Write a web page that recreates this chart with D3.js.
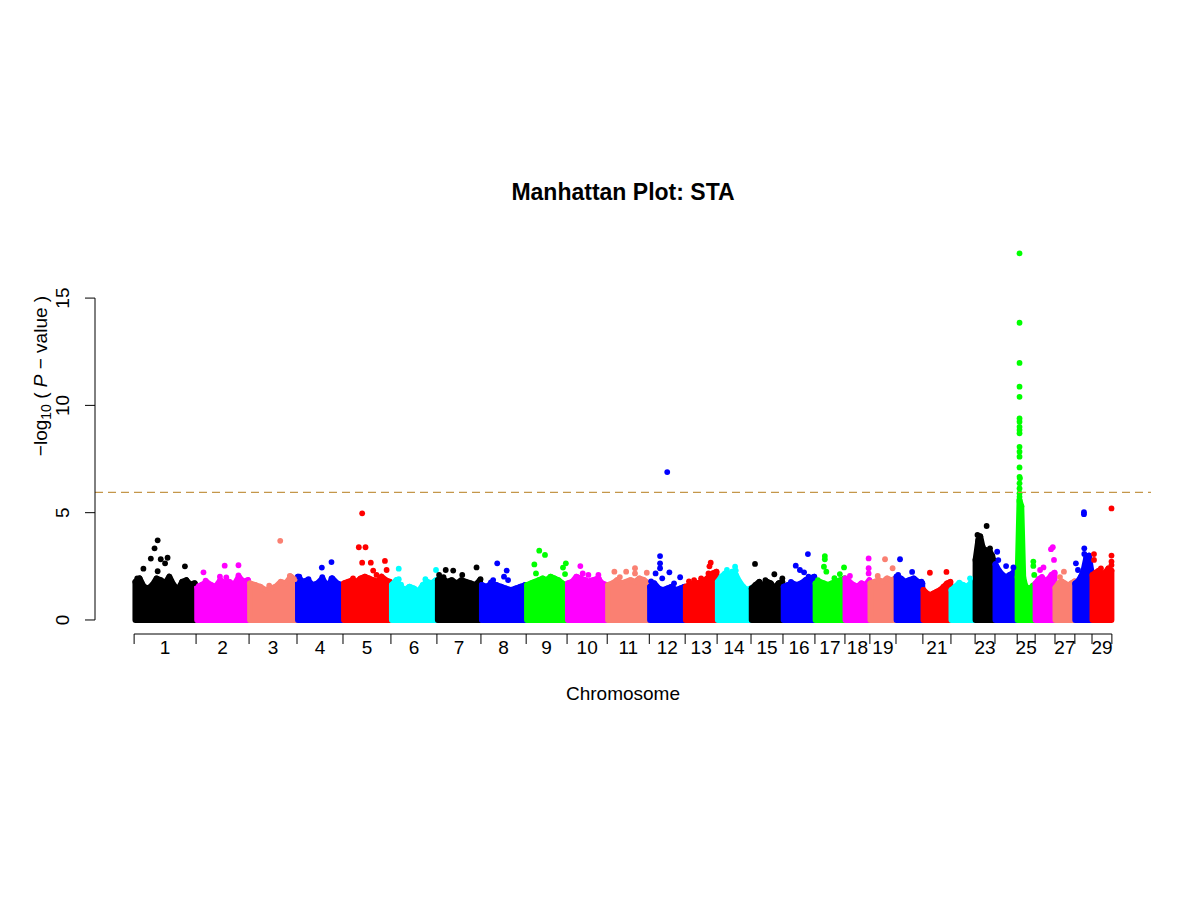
<!DOCTYPE html>
<html>
<head>
<meta charset="utf-8">
<script src="https://cdn.jsdelivr.net/npm/d3@7"></script>
<style>
  body { margin: 0; background: #fff; }
  text { font-family: "Liberation Sans", Arial, Helvetica, sans-serif; fill: #000; }
</style>
</head>
<body>
<div id="chart"></div>
<script>
// chromosome lengths (Mb)
const chromLen = [159, 136, 123, 118, 123, 118, 113, 116, 105, 103, 108, 92, 82, 87, 82,
                  82, 77, 64, 67, 69, 72, 62, 51, 57, 46, 51, 51, 44, 51];
const chromLabel = ["1","2","3","4","5","6","7","8","9","10","11","12","13","14","15",
                    "16","17","18","19","","21","","23","","25","","27","","29"];
const chromColor = ["black","magenta","salmon","blue","red","cyan",
                    "black","blue","lime","magenta","salmon","blue","red","cyan",
                    "black","blue","lime","magenta","salmon","blue","red","cyan",
                    "black","blue","lime","magenta","salmon","blue","red"];
const yTicks = [0, 5, 10, 15];
const threshold = 5.95;

// upper edge of the dense cloud of each chromosome, evenly spaced along it
const envelope = [
  [1.78, 1.94, 1.55, 1.47, 1.63, 1.94, 1.86, 1.71, 2.02, 1.63, 1.40, 1.78, 1.86, 1.63, 1.71],
  [1.55, 1.63, 1.78, 1.63, 1.55, 1.86, 1.71, 1.78, 1.63, 2.02, 1.78, 1.86],
  [1.71, 1.63, 1.55, 1.40, 1.47, 1.55, 1.78, 1.71, 2.02, 1.86],
  [2.02, 1.78, 1.86, 1.63, 1.71, 1.94, 1.55, 1.94, 1.71, 1.63],
  [1.71, 1.78, 1.86, 1.78, 1.94, 2.02, 1.94, 1.86, 1.78, 2.02, 1.86, 1.78],
  [1.63, 1.86, 1.55, 1.40, 1.55, 1.47, 1.32, 1.63, 1.78, 1.71, 1.86],
  [1.86, 1.94, 1.78, 1.86, 1.71, 1.86, 1.78, 1.71, 1.63, 1.86],
  [1.63, 1.55, 1.71, 1.63, 1.55, 1.47, 1.40, 1.47, 1.55, 1.63],
  [1.63, 1.71, 1.78, 1.86, 1.94, 1.86, 2.02, 1.94, 1.86, 1.71, 1.63],
  [1.71, 1.78, 2.02, 1.94, 1.86, 1.78, 1.86, 1.94, 1.71, 1.63],
  [1.63, 1.71, 1.86, 1.71, 1.78, 1.86, 1.78, 1.94, 1.86, 1.71],
  [1.55, 1.71, 1.47, 1.40, 1.47, 1.55, 1.40, 1.47, 1.55],
  [1.55, 1.63, 1.71, 1.71, 1.78, 1.86, 2.02, 2.17, 2.25],
  [1.78, 2.02, 2.17, 2.02, 2.25, 2.10, 1.78, 1.55, 1.40, 1.47],
  [1.47, 1.63, 1.78, 1.55, 1.78, 1.71, 1.47, 1.71, 1.78],
  [1.55, 1.63, 1.71, 1.63, 1.71, 1.86, 1.94, 2.02],
  [1.71, 1.78, 1.71, 1.63, 1.71, 1.78, 1.86, 1.94],
  [1.94, 1.78, 1.63, 1.55, 1.71, 1.63, 1.86],
  [1.71, 1.78, 1.86, 1.78, 1.94, 1.86, 1.94],
  [2.02, 1.94, 1.78, 1.86, 1.94, 1.78, 1.71],
  [1.40, 1.24, 1.17, 1.24, 1.32, 1.40, 1.55, 1.71, 1.78],
  [1.40, 1.55, 1.71, 1.63, 1.55, 1.71, 1.86],
  [2.8, 3.6, 3.9, 3.4, 3.1, 2.9, 3.2, 3.0, 2.6],
  [2.6, 2.3, 2.1, 2.0, 2.1, 2.2, 2.1],
  [2.0, 5.6, 5.3, 2.0, 1.6, 1.5, 1.4, 1.5, 1.6, 1.5],
  [1.7, 1.9, 2.0, 1.8, 1.9, 2.1, 2.2],
  [1.5, 1.7, 1.8, 1.7, 1.6, 1.7, 1.8],
  [1.7, 1.8, 2.0, 2.3, 2.9, 3.0, 2.2],
  [2.1, 2.2, 2.3, 2.1, 2.2, 2.4, 2.3]
];

// loose points above the cloud: [chromosome, position along it (0-1), -log10 p]
const peaks = [
  [1,0.38,3.71],[1,0.33,3.34],[1,0.27,2.86],[1,0.15,2.39],[1,0.43,2.83],[1,0.54,2.9],
  [1,0.50,2.64],[1,0.38,2.27],[1,0.82,2.5],[1,0.05,1.94],[1,0.96,1.71],
  [2,0.14,2.22],[2,0.18,1.83],[2,0.54,2.53],[2,0.80,2.55],[2,0.45,2.02],[2,0.80,2.08],[2,0.57,1.98],
  [3,0.65,3.69],[3,0.42,1.6],[3,0.85,2.05],[3,0.95,1.9],
  [4,0.54,2.44],[4,0.75,2.70],[4,0.05,2.02],[4,0.75,1.94],[4,0.55,2.0],[4,0.25,1.9],
  [5,0.40,4.97],[5,0.33,3.39],[5,0.47,3.39],[5,0.40,2.67],[5,0.58,2.67],[5,0.875,2.75],
  [5,0.91,2.33],[5,0.63,2.3],[5,0.21,1.94],[5,0.70,2.1],
  [6,0.17,2.39],[6,0.17,1.9],[6,0.98,2.33],[6,0.22,1.65],[6,0.75,1.9],
  [7,0.05,2.1],[7,0.20,2.33],[7,0.37,2.3],[7,0.575,2.1],[7,0.90,2.45],[7,0.99,1.9],[7,0.15,2.0],
  [8,0.36,2.64],[8,0.57,2.3],[8,0.51,2.02],[8,0.60,1.86],[8,0.27,1.86],[8,0.22,1.75],
  [9,0.32,3.23],[9,0.46,3.03],[9,0.20,2.59],[9,0.24,2.17],[9,0.97,2.64],[9,0.90,2.44],[9,0.95,2.14],
  [10,0.33,2.51],[10,0.39,2.17],[10,0.53,2.1],[10,0.78,2.1],[10,0.80,1.9],[10,0.60,1.85],
  [11,0.17,2.25],[11,0.45,2.25],[11,0.66,2.41],[11,0.66,2.17],[11,0.94,2.2],[11,0.30,2.0],
  [12,0.50,6.89],[12,0.30,2.98],[12,0.30,2.64],[12,0.30,2.41],[12,0.175,2.17],[12,0.56,2.22],
  [12,0.36,1.94],[12,0.86,1.99],[12,0.69,1.71],[12,0.05,1.8],
  [13,0.80,2.67],[13,0.76,2.5],[13,0.73,2.17],[13,0.50,1.94],[13,0.28,1.86],[13,0.12,1.8],
  [14,0.29,2.33],[14,0.53,2.48],[14,0.27,2.17],[14,0.55,2.3],
  [15,0.125,2.61],[15,0.73,2.13],[15,0.98,1.94],[15,0.45,1.86],
  [16,0.78,3.07],[16,0.40,2.53],[16,0.53,2.33],[16,0.66,2.22],[16,0.80,2.02],[16,0.25,1.78],
  [17,0.33,2.98],[17,0.33,2.83],[17,0.30,2.48],[17,0.38,2.25],[17,0.97,2.45],[17,0.83,2.14],
  [17,0.65,1.95],[17,0.10,1.86],
  [18,0.95,2.87],[18,0.95,2.41],[18,0.95,2.17],[18,0.20,2.05],
  [19,0.58,2.83],[19,0.87,2.41],[19,0.30,2.05],
  [20,0.15,2.83],[20,0.08,2.1],[20,0.60,2.24],[20,0.95,1.79],
  [21,0.25,2.2],[21,0.84,2.24],
  [22,0.35,1.74],[22,0.79,1.94],
  [23,0.58,4.38],[23,0.12,3.96],[23,0.15,3.73],[23,0.25,3.57],[23,0.55,3.26],[23,0.75,3.34],
  [23,0.80,3.0],[23,0.10,2.79],
  [24,0.10,3.18],[24,0.15,2.79],[24,0.50,2.51],[24,0.83,2.45],
  [25,0.13,17.08],[25,0.13,13.85],[25,0.13,11.98],[25,0.13,10.87],[25,0.13,10.40],[25,0.13,9.39],
  [25,0.13,9.24],[25,0.13,9.0],[25,0.13,8.85],[25,0.13,8.70],[25,0.13,8.07],[25,0.13,7.84],
  [25,0.13,7.61],[25,0.13,7.11],[25,0.13,6.67],[25,0.15,6.6],[25,0.13,6.37],[25,0.13,6.13],
  [25,0.13,5.90],[25,0.13,5.74],[25,0.13,5.51],
  [25,0.90,2.72],[25,0.90,2.52],[25,0.95,2.1],
  [26,0.89,3.39],[26,0.80,3.3],[26,0.95,2.8],[26,0.42,2.45],[26,0.25,2.33],
  [27,0.45,2.25],[27,0.25,2.0],
  [28,0.53,5.02],[28,0.53,4.93],[28,0.55,3.34],[28,0.55,3.08],[28,0.06,2.64],[28,0.18,2.33],
  [29,0.98,5.2],[29,0.98,3.0],[29,0.98,2.72],[29,0.98,2.56],[29,0.10,3.07],[29,0.10,2.8],[29,0.45,2.4]
];

const W = 1200, H = 900;
const plot = {left: 95, right: 1151, top: 238, bottom: 635};
const dotR = 2.9;

const starts = [0, ...d3.cumsum(chromLen)];
const total = starts[starts.length - 1];

let svg = d3.select("#chart").append("svg")
    .attr("width", W)
    .attr("height", H);
svg.append("rect").attr("width", W).attr("height", H).attr("fill", "#fff");

// R style: 4% padding on both ends
let x = d3.scaleLinear()
    .domain([-0.04 * total, 1.04 * total])
    .range([plot.left, plot.right]);
let y = d3.scaleLinear()
    .domain([-0.7, 17.8])
    .range([plot.bottom, plot.top]);

const pos = (c, f) => x(starts[c] + f * chromLen[c]);

// dense clouds
const cloud = svg.append("g");
envelope.forEach((env, c) => {
    const pts = env.map((v, i) => [0.02 + i * 0.96 / (env.length - 1), v]);
    const area = d3.area()
        .x(d => pos(c, d[0]))
        .y0(y(0))
        .y1(d => y(d[1]));
    cloud.append("path")
        .attr("d", area(pts))
        .attr("fill", chromColor[c])
        .attr("stroke", chromColor[c])
        .attr("stroke-width", dotR * 2)
        .attr("stroke-linejoin", "round");
    cloud.selectAll(null)
        .data(pts)
        .enter()
        .append("circle")
            .attr("cx", d => pos(c, d[0]))
            .attr("cy", d => y(d[1]))
            .attr("r", dotR)
            .attr("fill", chromColor[c]);
});

// single points
svg.append("g")
    .selectAll("circle")
    .data(peaks)
    .enter()
    .append("circle")
        .attr("cx", d => pos(d[0] - 1, d[1]))
        .attr("cy", d => y(d[2]))
        .attr("r", dotR)
        .attr("fill", d => chromColor[d[0] - 1]);

// significance line
svg.append("line")
    .attr("x1", plot.left).attr("x2", plot.right)
    .attr("y1", y(threshold)).attr("y2", y(threshold))
    .attr("stroke", "#c4964a")
    .attr("stroke-width", 1.2)
    .attr("stroke-dasharray", "8,5");

// y axis
const ya = svg.append("g");
ya.append("line")
    .attr("x1", plot.left).attr("x2", plot.left)
    .attr("y1", y(0)).attr("y2", y(15))
    .attr("stroke", "#000");
yTicks.forEach(t => {
    ya.append("line")
        .attr("x1", plot.left - 10).attr("x2", plot.left)
        .attr("y1", y(t)).attr("y2", y(t))
        .attr("stroke", "#000");
    ya.append("text")
        .attr("transform", `translate(68.5,${y(t)}) rotate(-90)`)
        .attr("text-anchor", "middle")
        .style("font-size", "19px")
        .text(t);
});

// x axis: ticks at chromosome borders, names in the middle
const xa = svg.append("g");
const axisY = 634;
xa.append("line")
    .attr("x1", x(0)).attr("x2", x(total))
    .attr("y1", axisY).attr("y2", axisY)
    .attr("stroke", "#000");
starts.forEach(s => {
    xa.append("line")
        .attr("x1", x(s)).attr("x2", x(s))
        .attr("y1", axisY).attr("y2", axisY + 10)
        .attr("stroke", "#000");
});
chromLabel.forEach((lab, c) => {
    if (!lab) return;
    xa.append("text")
        .attr("x", pos(c, 0.5))
        .attr("y", 653.5)
        .attr("text-anchor", "middle")
        .style("font-size", "19px")
        .text(lab);
});

// titles
svg.append("text")
    .attr("x", (plot.left + plot.right) / 2)
    .attr("y", 200)
    .attr("text-anchor", "middle")
    .style("font-size", "23px")
    .style("font-weight", "bold")
    .text("Manhattan Plot: STA");

svg.append("text")
    .attr("x", (plot.left + plot.right) / 2)
    .attr("y", 700)
    .attr("text-anchor", "middle")
    .style("font-size", "19px")
    .text("Chromosome");

const yl = svg.append("text")
    .attr("transform", "translate(47,376) rotate(-90)")
    .attr("text-anchor", "middle")
    .style("font-size", "19px");
yl.append("tspan").text("\u2212log");
yl.append("tspan").attr("dy", 4).style("font-size", "14px").text("10");
yl.append("tspan").attr("dy", -4).text(" ( ");
yl.append("tspan").style("font-style", "italic").text("P");
yl.append("tspan").text(" \u2212 value )");
</script>
</body>
</html>
